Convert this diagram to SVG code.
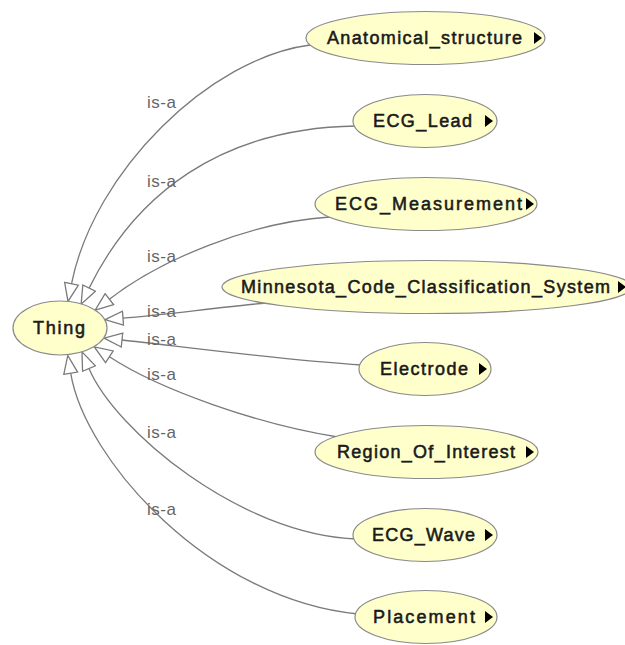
<svg xmlns="http://www.w3.org/2000/svg" width="625" height="645" viewBox="0 0 625 645">
<style>
.edge{fill:none;stroke:#7a7a7a;stroke-width:1.3;marker-end:url(#hollow)}
.node ellipse{fill:#ffffcc;stroke:#8a8a8a;stroke-width:1.2}
.lbl{font-family:"Liberation Sans",Arial,sans-serif;font-size:18px;fill:#1a1a1a;stroke:#1a1a1a;stroke-width:0.55}
.isa{font-family:"Liberation Sans",Arial,sans-serif;font-size:17px;fill:#666}
.tri{fill:#000}
</style>
<defs>
<marker id="hollow" markerUnits="userSpaceOnUse" viewBox="-1 -8 21 16" markerWidth="21" markerHeight="16" refX="0" refY="0" orient="auto">
<path d="M0,-7 L18,0 L0,7 Z" fill="#fff" stroke="#7a7a7a" stroke-width="1.3"/>
</marker>
</defs>
<rect width="625" height="645" fill="#fff"/>
<g id="connectors">
<path class="edge" d="M310,45 C210,58 94,171 71.5,283.8"/>
<path class="edge" d="M356,126 C220,128 135,195 89.1,288.1"/>
<path class="edge" d="M330,217 C250,222 160,260 109.4,299.2"/>
<path class="edge" d="M267,303 C220,307 165,315 123,318.2"/>
<path class="edge" d="M362,365 C280,360 170,345 122,340"/>
<path class="edge" d="M338,437 C260,425 160,390 109.4,356.8"/>
<path class="edge" d="M357,539 C240,535 115,430 89,368.5"/>
<path class="edge" d="M358,614 C210,600 85,460 70.7,373.2"/>
<text class="isa" x="147" y="108" textLength="29">is-a</text>
<text class="isa" x="147" y="187" textLength="29">is-a</text>
<text class="isa" x="147" y="262" textLength="29">is-a</text>
<text class="isa" x="147" y="317" textLength="29">is-a</text>
<text class="isa" x="147" y="345" textLength="29">is-a</text>
<text class="isa" x="147" y="380" textLength="29">is-a</text>
<text class="isa" x="147" y="438" textLength="29">is-a</text>
<text class="isa" x="147" y="515" textLength="29">is-a</text>
</g>
<g id="Thing" class="node">
<ellipse cx="60" cy="328" rx="47" ry="27"/>
<text class="lbl" x="33" y="334" textLength="52">Thing</text>
</g>
<g id="Anatomical_structure" class="node">
<ellipse cx="425.5" cy="38" rx="119.5" ry="26.5"/>
<text class="lbl" x="327" y="44" textLength="195">Anatomical_structure</text>
<path class="tri" d="M534,32 L542,38 L534,44 Z"/>
</g>
<g id="ECG_Lead" class="node">
<ellipse cx="425" cy="121" rx="72" ry="26.5"/>
<text class="lbl" x="373" y="127" textLength="99">ECG_Lead</text>
<path class="tri" d="M485,115 L493,121 L485,127 Z"/>
</g>
<g id="ECG_Measurement" class="node">
<ellipse cx="426" cy="204" rx="111" ry="26.5"/>
<text class="lbl" x="335" y="210" textLength="187">ECG_Measurement</text>
<path class="tri" d="M526,198 L534,204 L526,210 Z"/>
</g>
<g id="Minnesota_Code_Classification_System" class="node">
<ellipse cx="427" cy="287" rx="205" ry="26.5"/>
<text class="lbl" x="241" y="293" textLength="369">Minnesota_Code_Classification_System</text>
<path class="tri" d="M618,281 L626,287 L618,293 Z"/>
</g>
<g id="Electrode" class="node">
<ellipse cx="425" cy="369" rx="66" ry="26.5"/>
<text class="lbl" x="380" y="375" textLength="88">Electrode</text>
<path class="tri" d="M479,363 L487,369 L479,375 Z"/>
</g>
<g id="Region_Of_Interest" class="node">
<ellipse cx="426.5" cy="452" rx="111.5" ry="26.5"/>
<text class="lbl" x="337" y="458" textLength="178">Region_Of_Interest</text>
<path class="tri" d="M526,446 L534,452 L526,458 Z"/>
</g>
<g id="ECG_Wave" class="node">
<ellipse cx="425" cy="535" rx="72" ry="26.5"/>
<text class="lbl" x="372" y="541" textLength="103">ECG_Wave</text>
<path class="tri" d="M485,529 L493,535 L485,541 Z"/>
</g>
<g id="Placement" class="node">
<ellipse cx="426" cy="617" rx="71" ry="26.5"/>
<text class="lbl" x="373" y="623" textLength="102">Placement</text>
<path class="tri" d="M485,611 L493,617 L485,623 Z"/>
</g>
</svg>
